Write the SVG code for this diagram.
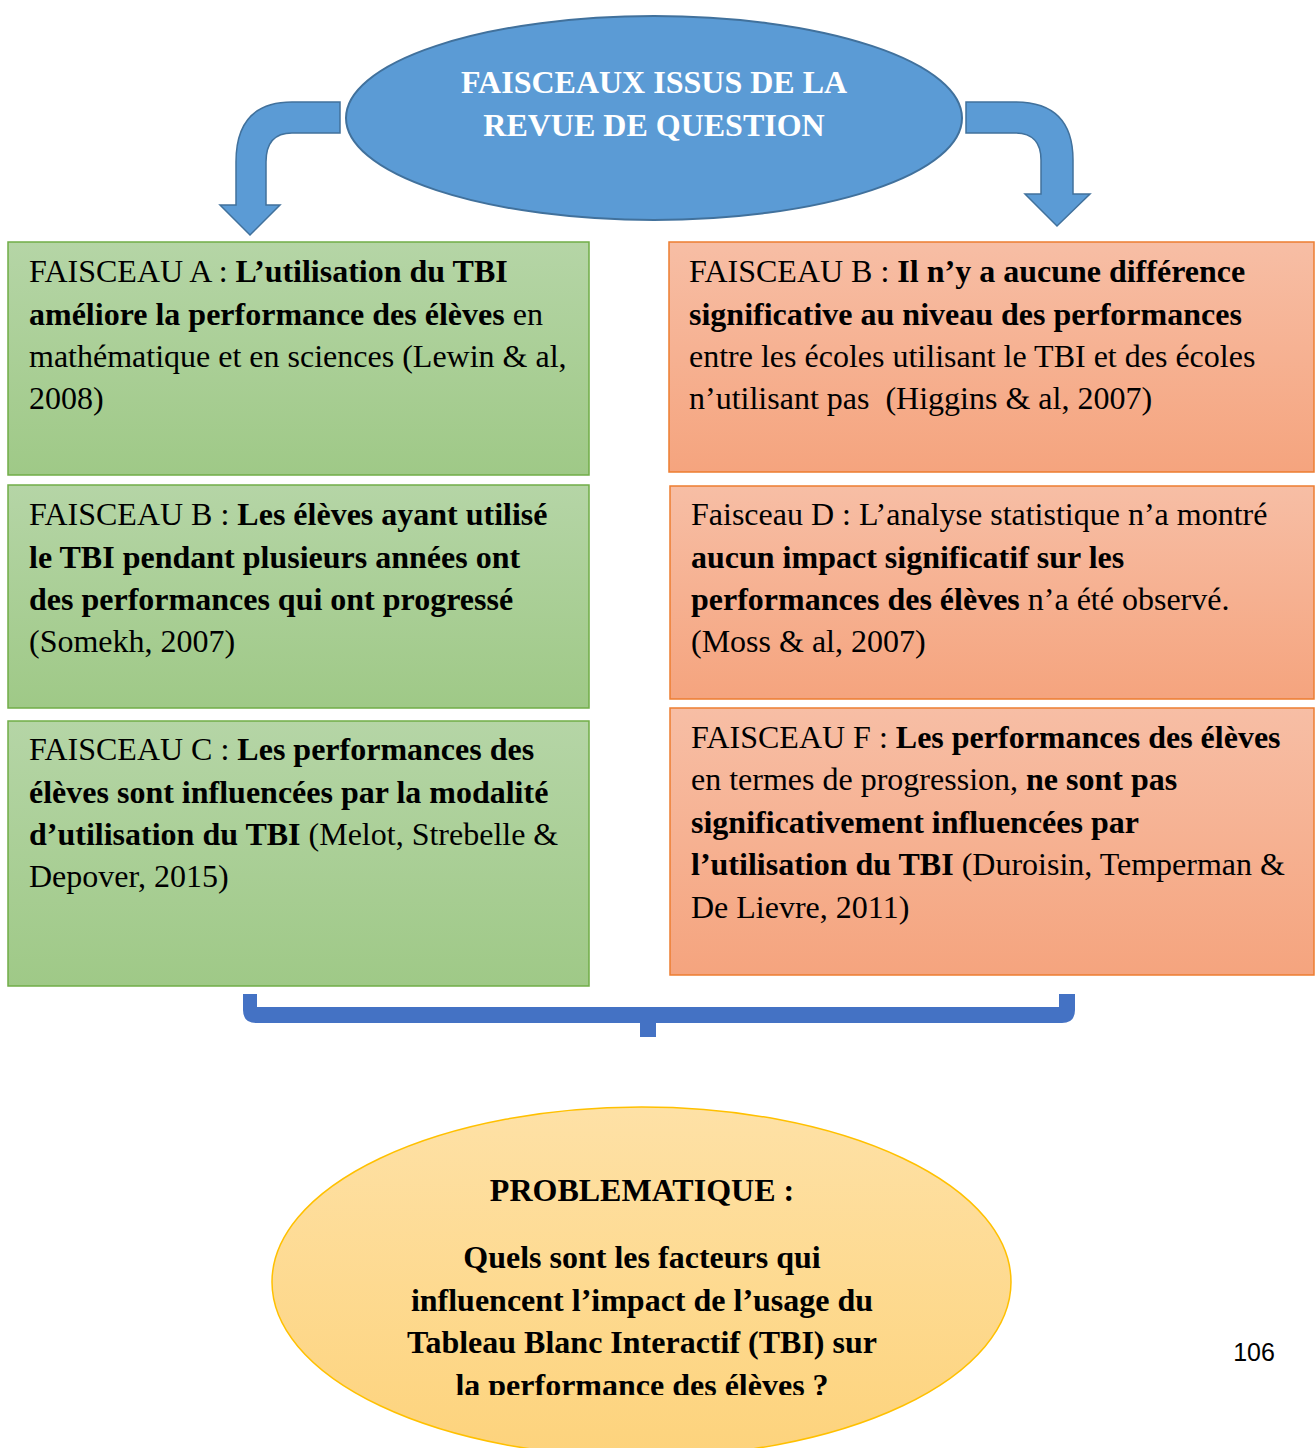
<svg xmlns="http://www.w3.org/2000/svg" width="1315" height="1448" viewBox="0 0 1315 1448">
<defs>
<linearGradient id="gGreen" x1="0" y1="0" x2="0" y2="1"><stop offset="0" stop-color="#b5d5a6"/><stop offset="1" stop-color="#9fc987"/></linearGradient>
<linearGradient id="gOrange" x1="0" y1="0" x2="0" y2="1"><stop offset="0" stop-color="#f7bea5"/><stop offset="1" stop-color="#f5a47e"/></linearGradient>
<linearGradient id="gYellow" x1="0" y1="0" x2="0" y2="1"><stop offset="0" stop-color="#fee1a6"/><stop offset="1" stop-color="#fdd37c"/></linearGradient>
<clipPath id="clipBottom"><rect x="0" y="0" width="1315" height="1395"/></clipPath>
</defs>
<style>
.txt{font-family:"Liberation Serif","Times New Roman",serif;font-size:32px;fill:#000;white-space:pre}
.b{font-weight:bold}
.green{fill:url(#gGreen);stroke:#70ad47;stroke-width:1.5}
.orange{fill:url(#gOrange);stroke:#ed7d31;stroke-width:1.5}
.arrow{fill:#5b9bd5;stroke:#41719c;stroke-width:1.5}
.ctr{text-anchor:middle}
</style>
<rect width="1315" height="1448" fill="#fff"/>

<g id="connectors">
<path class="arrow" d="M340,102 L292,102 Q236,102 236,162 L236,205 L220,205 L250,235 L280,205 L266,205 L266,162 Q266,133 292,133 L340,133 Z"/>
<path class="arrow" d="M966,102 L1015,102 Q1073,102 1073,160 L1073,194 L1090,194 L1057,226 L1025,194 L1041,194 L1041,160 Q1041,133 1015,133 L966,133 Z"/>
<path fill="#4472c4" d="M243,994 H257 V1007 H1059 V994 H1075 V1010 Q1075,1023 1062,1023 H656 V1037 H640 V1023 H256 Q243,1023 243,1010 Z"/>
</g>

<g id="top">
<ellipse cx="654" cy="118" rx="308" ry="102" fill="#5b9bd5" stroke="#41719c" stroke-width="2"/>
<text class="txt b ctr" x="654" y="93" fill="#fff" style="fill:#fff">FAISCEAUX ISSUS DE LA</text>
<text class="txt b ctr" x="654" y="136" style="fill:#fff">REVUE DE QUESTION</text>
</g>

<g id="boxA">
<rect class="green" x="8" y="242" width="581" height="233"/>
<text class="txt" x="29" y="282">FAISCEAU A : <tspan class="b">L’utilisation du TBI</tspan></text>
<text class="txt" x="29" y="325"><tspan class="b">améliore la performance des élèves</tspan> en</text>
<text class="txt" x="29" y="367">mathématique et en sciences (Lewin &amp; al,</text>
<text class="txt" x="29" y="409">2008)</text>
</g>

<g id="boxB-left">
<rect class="green" x="8" y="485" width="581" height="223"/>
<text class="txt" x="29" y="525">FAISCEAU B : <tspan class="b">Les élèves ayant utilisé</tspan></text>
<text class="txt b" x="29" y="568">le TBI pendant plusieurs années ont</text>
<text class="txt b" x="29" y="610">des performances qui ont progressé</text>
<text class="txt" x="29" y="652">(Somekh, 2007)</text>
</g>

<g id="boxC">
<rect class="green" x="8" y="721" width="581" height="265"/>
<text class="txt" x="29" y="760">FAISCEAU C : <tspan class="b">Les performances des</tspan></text>
<text class="txt b" x="29" y="803">élèves sont influencées par la modalité</text>
<text class="txt" x="29" y="845"><tspan class="b">d’utilisation du TBI</tspan> (Melot, Strebelle &amp;</text>
<text class="txt" x="29" y="887">Depover, 2015)</text>
</g>

<g id="boxB-right">
<rect class="orange" x="669" y="242" width="645" height="230"/>
<text class="txt" x="689" y="282">FAISCEAU B : <tspan class="b">Il n’y a aucune différence</tspan></text>
<text class="txt b" x="689" y="325">significative au niveau des performances</text>
<text class="txt" x="689" y="367">entre les écoles utilisant le TBI et des écoles</text>
<text class="txt" x="689" y="409">n’utilisant pas  (Higgins &amp; al, 2007)</text>
</g>

<g id="boxD">
<rect class="orange" x="670" y="486" width="644" height="213"/>
<text class="txt" x="691" y="525">Faisceau D : L’analyse statistique n’a montré</text>
<text class="txt b" x="691" y="568">aucun impact significatif sur les</text>
<text class="txt" x="691" y="610"><tspan class="b">performances des élèves</tspan> n’a été observé.</text>
<text class="txt" x="691" y="652">(Moss &amp; al, 2007)</text>
</g>

<g id="boxF">
<rect class="orange" x="670" y="708" width="644" height="267"/>
<text class="txt" x="691" y="748">FAISCEAU F : <tspan class="b">Les performances des élèves</tspan></text>
<text class="txt" x="691" y="790">en termes de progression, <tspan class="b">ne sont pas</tspan></text>
<text class="txt b" x="691" y="833">significativement influencées par</text>
<text class="txt" x="691" y="875"><tspan class="b">l’utilisation du TBI</tspan> (Duroisin, Temperman &amp;</text>
<text class="txt" x="691" y="918">De Lievre, 2011)</text>
</g>

<g id="problematique">
<ellipse cx="641.5" cy="1282" rx="369.5" ry="175" fill="url(#gYellow)" stroke="#ffc000" stroke-width="1.5"/>
<text class="txt b ctr" x="642" y="1201">PROBLEMATIQUE :</text>
<text class="txt b ctr" x="642" y="1268">Quels sont les facteurs qui</text>
<text class="txt b ctr" x="642" y="1311">influencent l’impact de l’usage du</text>
<text class="txt b ctr" x="642" y="1353">Tableau Blanc Interactif (TBI) sur</text>
<text class="txt b ctr" x="642" y="1396" clip-path="url(#clipBottom)">la performance des élèves ?</text>
</g>

<text x="1254" y="1361" text-anchor="middle" style="font-family:'Liberation Sans',Arial,sans-serif;font-size:25px;fill:#000">106</text>
</svg>
